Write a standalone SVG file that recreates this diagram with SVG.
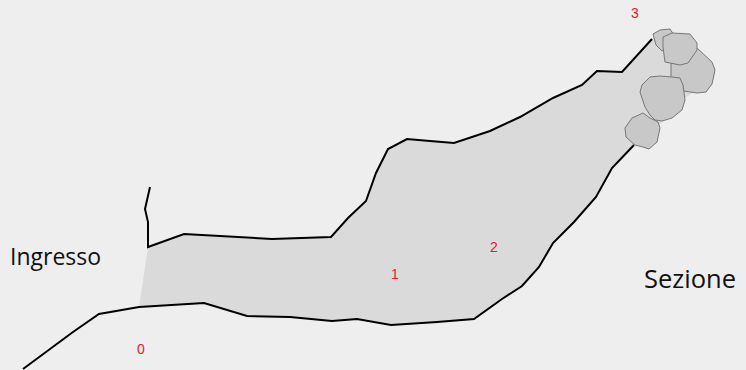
<svg xmlns="http://www.w3.org/2000/svg" width="746" height="370" viewBox="0 0 746 370">
  <style>
    .wall { fill: none; stroke: #000; stroke-width: 2; stroke-linejoin: miter; }
    .cave { fill: #dadada; stroke: none; }
    .rock { fill: #c8c8c8; stroke: #777; stroke-width: 1; stroke-linejoin: round; }
    .label { font-family: "Open Sans", "Noto Sans", sans-serif; fill: #111; }
    .num { font-family: "Liberation Sans", Arial, sans-serif; font-size: 14px; fill: #e3202c; text-anchor: middle; }
  </style>
  <rect width="746" height="370" fill="#eeeeee"/>

  <!-- cave interior; the right edge stays hidden behind the boulders -->
  <g id="cave">
    <polygon class="cave" points="148,247 184,234 272,239 331,237 348,218 366,201 376,173 388,149 407,139 430,141 454,143 490,131 520,117 553,98 582,85 597,71 622,72 652,39 672,33 700,50 710,70 700,88 682,100 675,112 655,128 645,145 634,145 612,168 596,197 574,222 553,243 539,267 522,286 502,299 474,319 437,322 391,325 357,319 332,321 290,317 247,316 204,303 139,307"/>
  </g>

  <!-- walls -->
  <g id="walls">
    <polyline class="wall" points="150,187 145,209 148,222 148,247 184,234 272,239 331,237 348,218 366,201 376,173 388,149 407,139 430,141 454,143 490,131 520,117 553,98 582,85 597,71 622,72 652,39"/>
    <polyline class="wall" points="23,369 73,332 99,314 139,307 204,303 247,316 290,317 332,321 357,319 391,325 437,322 474,319 502,299 522,286 539,267 553,243 574,222 596,197 612,168 634,145"/>
  </g>

  <!-- boulders -->
  <g id="boulders">
    <polygon class="rock" points="671,62 690,45 697,48 712,62 715,70 712,84 706,92 697,93 684,91 671,78"/>
    <polygon class="rock" points="653,34 660,30 670,29 674,35 672,48 662,51 656,45"/>
    <polygon class="rock" points="663,37 672,33 690,34 697,43 697,50 688,63 680,65 665,62 663,47"/>
    <polygon class="rock" points="642,85 650,77 660,76 672,77 680,78 683,85 685,100 682,110 672,118 662,121 655,120 650,115 645,107 640,92"/>
    <polygon class="rock" points="625,128 632,118 643,113 650,118 658,122 660,128 657,142 649,149 643,147 635,145 626,137"/>
  </g>

  <!-- labels -->
  <g id="labels">
    <text class="label" x="10" y="265" font-size="23">Ingresso</text>
    <text class="label" x="644" y="288" font-size="25.5">Sezione</text>
    <text class="num" x="141" y="354">0</text>
    <text class="num" x="395" y="279">1</text>
    <text class="num" x="494" y="252">2</text>
    <text class="num" x="635" y="18">3</text>
  </g>
</svg>
